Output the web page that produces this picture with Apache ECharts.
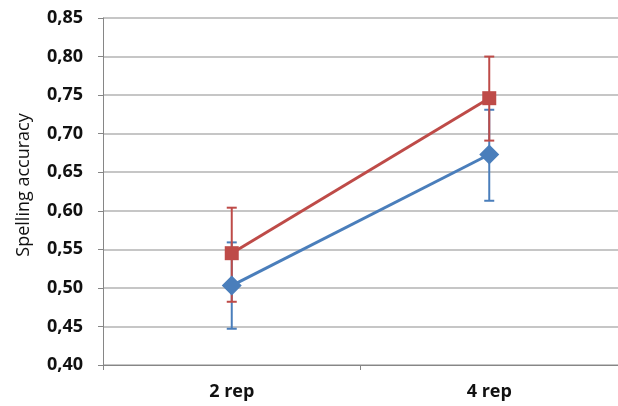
<!DOCTYPE html>
<html>
<head>
<meta charset="utf-8">
<script src="https://cdn.jsdelivr.net/npm/echarts@6/dist/echarts.min.js"></script>
<style>html,body{margin:0;padding:0;background:#fff}#c{width:618px;height:406px}</style>
</head>
<body>
<div id="c"></div>
<script>
var categories = ['2 rep', '4 rep'];
var blueMean = [0.503, 0.673];
var blueLow = [0.447, 0.613];
var blueHigh = [0.559, 0.731];
var redMean = [0.545, 0.746];
var redLow = [0.482, 0.691];
var redHigh = [0.604, 0.800];
var yTicks = { min: 0.40, max: 0.85, interval: 0.05 };

var BLUE = '#4A7EBB', RED = '#BE4B48';

function errSeries(low, high, color) {
  var data = categories.map(function (c, i) { return [i, low[i], high[i]]; });
  return {
    type: 'custom',
    z: 2,
    silent: true,
    data: data,
    encode: { x: 0, y: [1, 2] },
    renderItem: function (params, api) {
      var x = api.value(0);
      var lo = api.coord([x, api.value(1)]);
      var hi = api.coord([x, api.value(2)]);
      var w = 5;
      var st = { stroke: color, lineWidth: 2 };
      return {
        type: 'group',
        children: [
          { type: 'line', shape: { x1: lo[0], y1: lo[1], x2: hi[0], y2: hi[1] }, style: st },
          { type: 'line', shape: { x1: lo[0] - w, y1: lo[1], x2: lo[0] + w, y2: lo[1] }, style: st },
          { type: 'line', shape: { x1: hi[0] - w, y1: hi[1], x2: hi[0] + w, y2: hi[1] }, style: st }
        ]
      };
    }
  };
}

var chart = echarts.init(document.getElementById('c'));
chart.setOption({
  animation: false,
  backgroundColor: '#fff',
  grid: { left: 103, right: -5, top: 18, bottom: 41, containLabel: false },
  xAxis: {
    type: 'category',
    data: categories,
    boundaryGap: true,
    axisLine: { lineStyle: { color: '#868686', width: 1 } },
    axisTick: { show: true, length: 5, lineStyle: { color: '#868686' } },
    axisLabel: { margin: 18, color: '#111', fontFamily: 'Open Sans', fontWeight: 'bold', fontSize: 18 },
    splitLine: { show: false }
  },
  yAxis: {
    type: 'value',
    min: yTicks.min, max: yTicks.max, interval: yTicks.interval,
    name: 'Spelling accuracy',
    nameLocation: 'middle',
    nameGap: 70,
    nameTextStyle: { color: '#111', fontFamily: 'Open Sans', fontSize: 18, padding: [0, 0, 0, 13] },
    axisLine: { show: true, lineStyle: { color: '#868686', width: 1 } },
    axisTick: { show: true, length: 5, lineStyle: { color: '#868686' } },
    axisLabel: {
      margin: 20, color: '#111', fontFamily: 'Open Sans', fontWeight: 'bold', fontSize: 18,
      formatter: function (v) { return v.toFixed(2).replace('.', ','); }
    },
    splitLine: { show: true, lineStyle: { color: '#B3B3B3', width: 1.5 } }
  },
  series: [
    errSeries(blueLow, blueHigh, BLUE),
    errSeries(redLow, redHigh, RED),
    {
      type: 'line', data: blueMean, z: 3,
      symbol: 'diamond', symbolSize: 20,
      itemStyle: { color: BLUE }, lineStyle: { color: BLUE, width: 3 }
    },
    {
      type: 'line', data: redMean, z: 3,
      symbol: 'rect', symbolSize: 14,
      itemStyle: { color: RED }, lineStyle: { color: RED, width: 3 }
    }
  ]
});
</script>
</body>
</html>
